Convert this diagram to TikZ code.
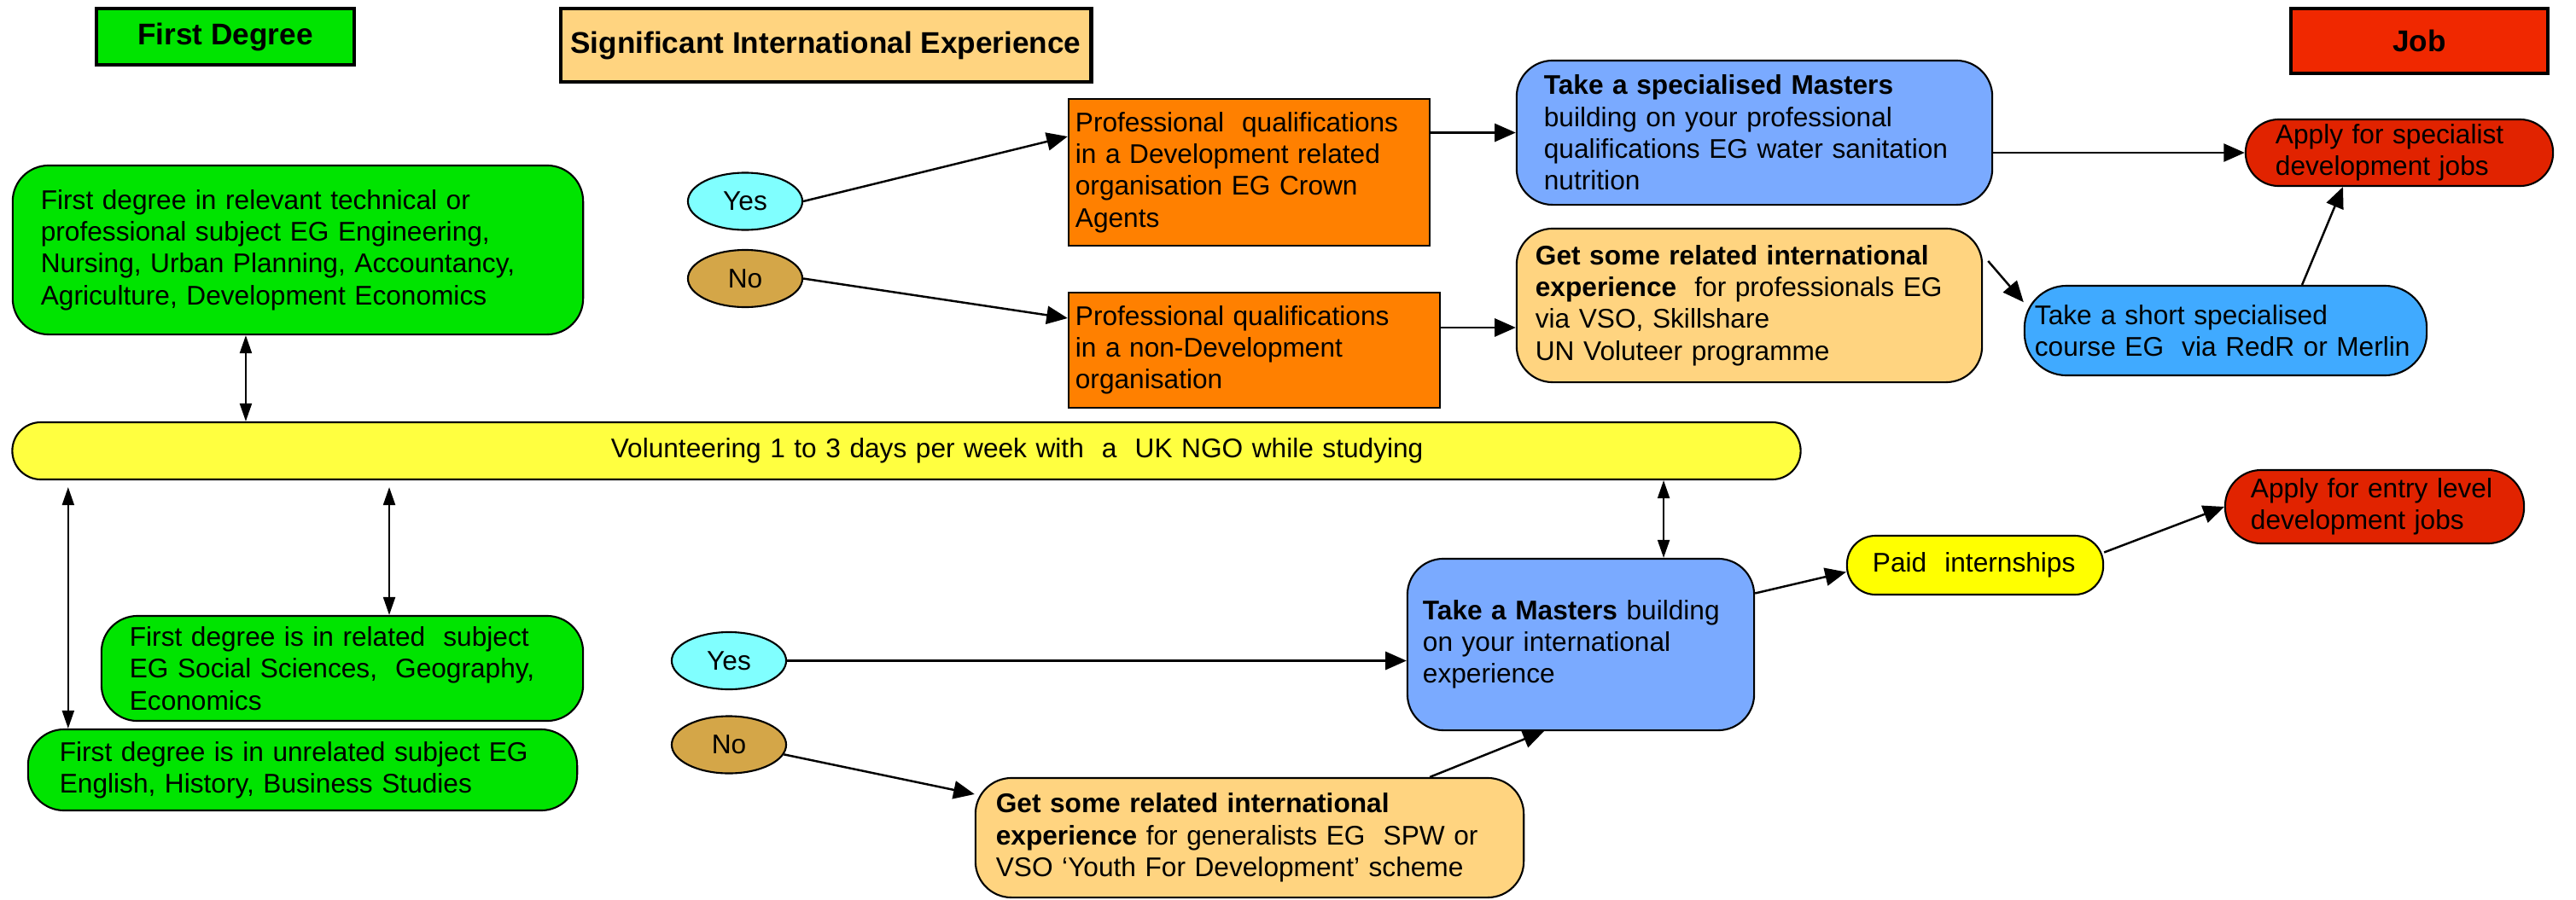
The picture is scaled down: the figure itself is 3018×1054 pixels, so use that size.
\documentclass[tikz,border=0pt]{standalone}
\usepackage{fontspec}
\setmainfont{Liberation Sans}
\usepackage{xcolor}
\usetikzlibrary{positioning}
\usetikzlibrary{arrows.meta}
\usetikzlibrary{shapes.geometric}

\definecolor{degreegreen}{RGB}{0,228,0}
\definecolor{intlight}{RGB}{255,212,128}
\definecolor{jobred}{RGB}{240,40,0}
\definecolor{profrange}{RGB}{255,128,0}
\definecolor{mastersblue}{RGB}{122,170,255}
\definecolor{courseblue}{RGB}{64,170,255}
\definecolor{applyred}{RGB}{225,35,0}
\definecolor{volyellow}{RGB}{255,255,64}
\definecolor{paidyellow}{RGB}{255,255,0}
\definecolor{yescyan}{RGB}{128,255,255}
\definecolor{nogold}{RGB}{212,166,72}

\tikzset{
  txt/.style={font=\fontsize{9}{10.6}\selectfont},
  box/.style={draw, line width=0.6pt, align=left, inner ysep=0pt, txt},
  roundbox/.style={box, rounded corners=#1},
  roundbox/.default=12pt,
  header/.style={draw, line width=1.3pt, align=center, txt, font=\bfseries},
  answer/.style={draw, ellipse, line width=0.6pt, inner sep=0pt,
    minimum width=1.34cm, minimum height=0.67cm, txt},
  arr/.style={-{Triangle[length=7pt,width=6pt]}, line width=0.7pt},
  dbl/.style={{Triangle[length=6pt,width=4pt]}-{Triangle[length=6pt,width=4pt]}, line width=0.6pt}
}

\begin{document}
\begin{tikzpicture}[x=0.01cm, y=-0.01cm]
\useasboundingbox (0,0) rectangle (3018,1054);

% Column headers
\node[header, fill=degreegreen,
      minimum width=3.02cm,
      minimum height=0.66cm] (firstDeg) at (264,43) {First Degree};
\node[header, fill=intlight,
      minimum width=5.57cm,
      minimum height=0.86cm] (sigExp) at (967.5,53) {Significant International Experience};
\node[header, fill=jobred,
      minimum width=3.01cm,
      minimum height=0.76cm] (job) at (2834.5,48) {Job};

% First degree
\node[roundbox, fill=degreegreen,
      minimum width=6.68cm, minimum height=1.98cm,
      inner xsep=0.33cm, text width=6.02cm
     ] (degA) at (349,293) {First degree in relevant technical or\\professional subject EG Engineering,\\Nursing, Urban Planning, Accountancy,\\Agriculture, Development Economics};
\node[roundbox, fill=degreegreen,
      minimum width=5.64cm, minimum height=1.23cm,
      inner xsep=0.33cm, text width=4.98cm
     ] (degB) at (401,783.5) {First degree is in related\ \ subject\\EG Social Sciences,\ \ Geography,\\Economics};
\node[roundbox, fill=degreegreen,
      minimum width=6.43cm, minimum height=0.95cm,
      inner xsep=0.37cm, text width=5.69cm
     ] (degC) at (354.5,902.5) {First degree is in unrelated subject EG\\English, History, Business Studies};

% Volunteering band
\node[roundbox=9.5pt, fill=volyellow,
      minimum width=20.94cm, minimum height=0.67cm,
      inner xsep=0.3cm, text width=20.34cm
     ] (volunteer) at (1062,528.5) {\hspace*{6.71cm}Volunteering 1 to 3 days per week with\ \ a\ \ UK NGO while studying};

% Yes / No
\node[answer, fill=yescyan] (yes1) at (873,236) {Yes};
\node[answer, fill=nogold] (no1) at (873,326.5) {No};
\node[answer, fill=yescyan] (yes2) at (854,774.5) {Yes};
\node[answer, fill=nogold] (no2) at (854,873) {No};

% Professional route
\node[box, fill=profrange,
      minimum width=4.23cm, minimum height=1.72cm,
      inner xsep=0.08cm, text width=4.07cm
     ] (profDev) at (1463.5,202) {Professional\ \ qualifications\\in a Development related\\organisation EG Crown\\Agents};
\node[box, fill=profrange,
      minimum width=4.35cm, minimum height=1.35cm,
      inner xsep=0.08cm, text width=4.19cm
     ] (profNon) at (1469.5,410.5) {Professional qualifications\\in a non-Development\\organisation};
\node[roundbox, fill=mastersblue,
      minimum width=5.57cm, minimum height=1.69cm,
      inner xsep=0.32cm, text width=4.93cm
     ] (specMasters) at (2055.5,155.5) {\textbf{Take a specialised Masters}\\building on your professional\\qualifications EG water sanitation\\nutrition};
\node[roundbox, fill=intlight,
      minimum width=5.45cm, minimum height=1.80cm,
      inner xsep=0.22cm, text width=5.01cm
     ] (profExp) at (2049.5,358) {\textbf{Get some related international}\\\textbf{experience}\ \ for professionals EG\\via VSO, Skillshare\\UN Voluteer programme};
\node[roundbox=14pt, fill=courseblue,
      minimum width=4.71cm, minimum height=1.05cm,
      inner xsep=0.12cm, text width=4.47cm
     ] (shortCourse) at (2607.5,387.5) {Take a short specialised\\course EG\ \ via RedR or Merlin};
\node[roundbox=11pt, fill=applyred,
      minimum width=3.6cm, minimum height=0.78cm,
      inner xsep=0.35cm, text width=2.9cm
     ] (specJobs) at (2811,179) {Apply for specialist\\development jobs};

% Generalist route
\node[roundbox, fill=mastersblue,
      minimum width=4.06cm, minimum height=2.01cm,
      inner xsep=0.18cm, text width=3.7cm
     ] (masters) at (1852,755.5) {\textbf{Take a Masters} building\\on your international\\experience};
\node[roundbox, fill=intlight,
      minimum width=6.42cm, minimum height=1.40cm,
      inner xsep=0.24cm, text width=5.94cm
     ] (genExp) at (1464,982) {\textbf{Get some related international}\\\textbf{experience} for generalists EG\ \ SPW or\\VSO ‘Youth For Development’ scheme};
\node[roundbox=9.5pt, fill=paidyellow,
      minimum width=3.0cm, minimum height=0.69cm,
      inner xsep=0.3cm, text width=2.4cm
     ] (intern) at (2314,662.5) {Paid\ \ internships};
\node[roundbox=12pt, fill=applyred,
      minimum width=3.5cm, minimum height=0.86cm,
      inner xsep=0.3cm, text width=2.9cm
     ] (entryJobs) at (2782,594) {Apply for entry level\\development jobs};

% Links to the volunteering band
\coordinate (a1) at ([xshift=-0.61cm]degA.south);
\draw[dbl] (a1) -- (a1 |- volunteer.north);
\coordinate (a2) at ([xshift=-2.745cm]degC.north);
\draw[dbl] ([yshift=-0.08cm]a2 |- volunteer.south) -- (a2);
\coordinate (a3) at ([xshift=0.55cm]degB.north);
\draw[dbl] ([yshift=-0.08cm]a3 |- volunteer.south) -- (a3);
\coordinate (a4) at ([xshift=0.97cm]masters.north);
\draw[dbl] (a4 |- volunteer.south) -- (a4);

% Professional arrows
\draw[arr] (yes1.east) -- ([yshift=0.42cm]profDev.west);
\draw[arr] (no1.east) -- ([yshift=0.375cm]profNon.west);
\draw[arr] (profDev.east |- specMasters.west) -- (specMasters.west);
\coordinate (b1) at ([yshift=0.265cm]profNon.east);
\draw[arr] (b1) -- (b1 -| profExp.west);
\draw[arr] (specMasters.east |- specJobs.west) -- (specJobs.west);
\draw[arr] ([shift={(0.06cm,0.52cm)}]profExp.east) -- (shortCourse.172);
\draw[arr] ([xshift=0.895cm]shortCourse.north) -- ([xshift=-0.66cm]specJobs.south);

% Generalist arrows
\draw[arr] (yes2.east) -- (yes2.east -| masters.west);
\draw[arr] (no2.-10) -- (genExp.171);
\draw[arr] ([xshift=2.11cm]genExp.north) -- ([xshift=-0.43cm]masters.south);
\draw[arr] ([yshift=0.6cm]masters.east) -- ([yshift=-0.08cm]intern.west);
\draw[arr] ([yshift=0.15cm]intern.east) -- (entryJobs.west);

\end{tikzpicture}
\end{document}
